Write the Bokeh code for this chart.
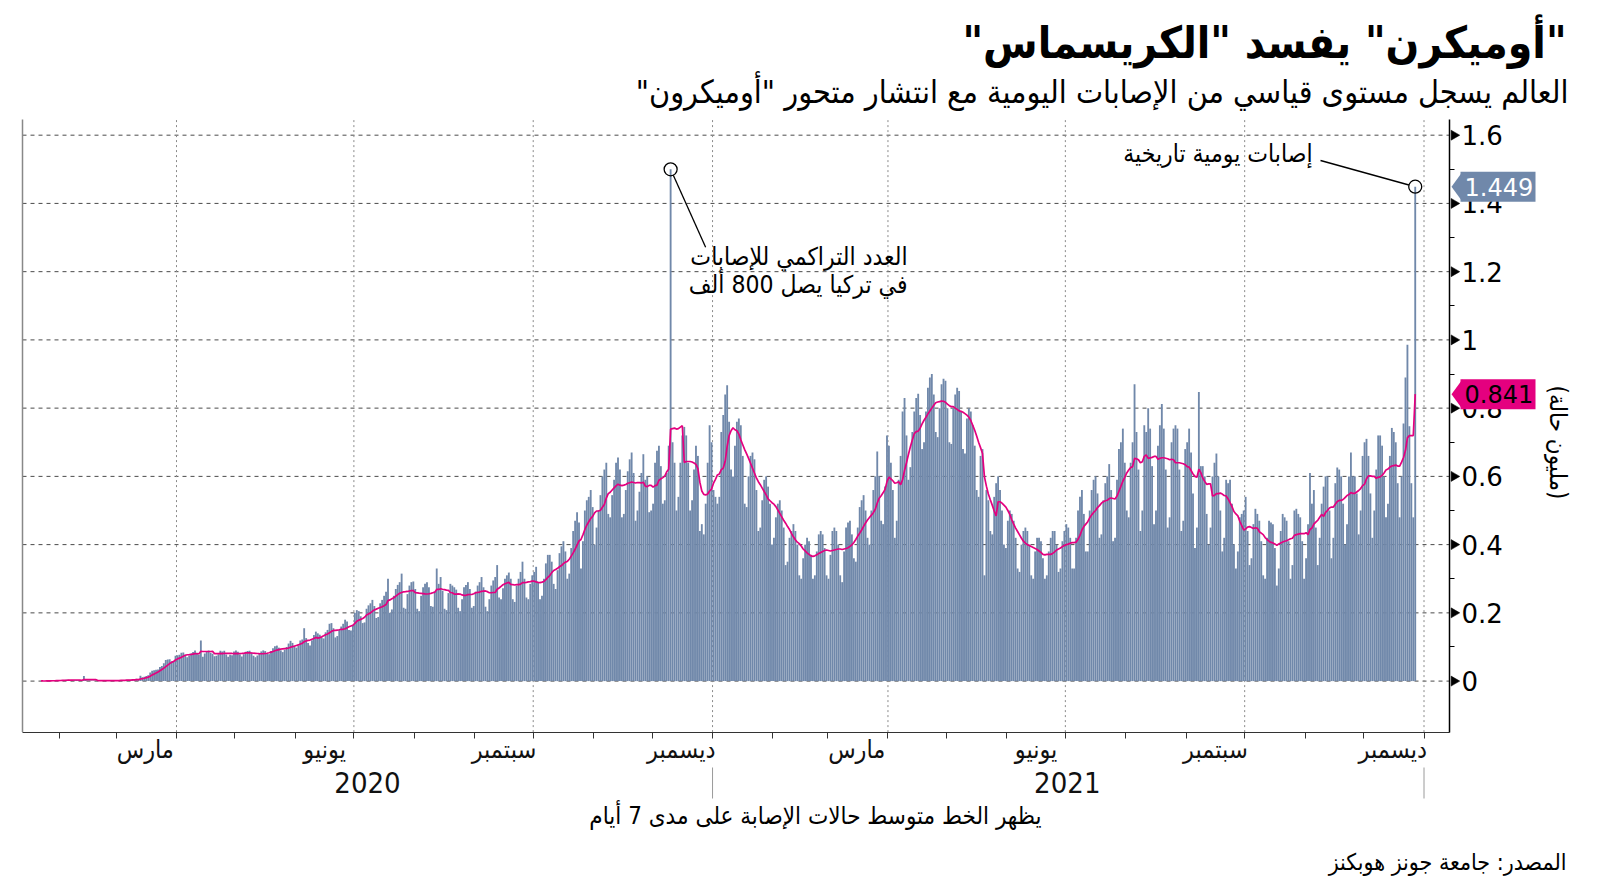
import numpy as np
import pandas as pd
from bokeh.plotting import figure
from bokeh.models import (Range1d, FixedTicker, NumeralTickFormatter, Label,
                          ColumnDataSource, DatetimeAxis)
from bokeh.embed import file_html
from bokeh.resources import INLINE

# ---------------- data (daily new cases worldwide, thousands) ----------------
jan20 = [1, 0, 0, 1, 1, 1, 3, 1, 2, 2]  # from Jan 22
feb20 = [2, 3, 3, 4, 4, 3, 3, 3, 3, 3, 2, 1, 15, 6, 2, 2, 2, 2, 1, 1, 1, 2, 1, 1, 1, 1, 1, 2, 2]
mar20 = [2, 2, 3, 2, 3, 4, 4, 4, 4, 5, 7, 3, 16, 11, 13, 15, 17, 25, 30, 32, 33, 34, 41, 44, 52, 62, 63, 64, 58, 59, 74]
apr20 = [76, 77, 83, 84, 77, 70, 75, 81, 85, 90, 83, 78, 119, 71, 81, 85, 90, 83, 80, 73, 74, 79, 89, 87, 89, 78, 71, 77, 76, 87]
may20 = [90, 86, 79, 72, 79, 86, 88, 89, 84, 74, 70, 75, 82, 87, 90, 88, 80, 79, 88, 96, 102, 104, 98, 90, 85, 92, 100, 110, 118, 112, 100]
jun20 = [98, 104, 119, 122, 155, 126, 112, 104, 120, 135, 145, 140, 136, 128, 125, 143, 150, 168, 170, 155, 128, 132, 150, 160, 168, 180, 175, 150, 148, 165]
jul20 = [200, 208, 205, 190, 170, 172, 212, 222, 228, 238, 220, 185, 188, 228, 238, 250, 262, 300, 200, 210, 250, 270, 282, 290, 315, 215, 212, 255, 280, 290, 292]
aug20 = [270, 212, 205, 250, 275, 285, 290, 275, 220, 218, 262, 330, 285, 305, 265, 212, 208, 258, 285, 280, 275, 268, 215, 205, 240, 275, 282, 290, 270, 215, 220]
sep20 = [262, 280, 290, 305, 275, 218, 205, 240, 280, 295, 305, 340, 245, 240, 272, 300, 310, 318, 300, 240, 232, 280, 300, 320, 350, 300, 245, 240, 285, 310]
oct20 = [320, 335, 290, 240, 250, 300, 345, 370, 370, 350, 285, 270, 325, 375, 395, 410, 380, 300, 315, 390, 440, 470, 495, 465, 330, 410, 500, 530, 540, 560, 510]
nov20 = [400, 450, 500, 545, 600, 620, 640, 490, 480, 545, 590, 640, 655, 620, 480, 490, 560, 615, 650, 670, 610, 470, 500, 555, 610, 665, 590, 600, 495, 500]
dec20 = [520, 640, 675, 690, 630, 520, 530, 610, 690, 1500, 700, 640, 500, 540, 640, 720, 745, 720, 640, 500, 530, 620, 690, 660, 440, 460, 430, 520, 640, 750, 700]
jan21 = [560, 540, 520, 540, 730, 780, 840, 867, 760, 620, 600, 690, 760, 770, 750, 660, 520, 510, 600, 660, 670, 650, 560, 440, 450, 530, 590, 600, 570, 520, 400]
feb21 = [420, 480, 520, 530, 500, 450, 340, 350, 420, 440, 460, 440, 400, 310, 300, 360, 400, 420, 410, 370, 300, 310, 380, 430, 440, 430, 390, 310]
mar21 = [300, 370, 440, 450, 440, 400, 310, 290, 380, 450, 465, 470, 430, 360, 350, 450, 510, 530, 545, 500, 420, 400, 500, 560, 600, 673, 600, 470, 460, 570, 720]
apr21 = [690, 640, 560, 420, 470, 590, 660, 790, 830, 720, 590, 627, 730, 790, 830, 842, 780, 680, 700, 790, 860, 890, 900, 840, 730, 715, 800, 870, 886, 880]
may21 = [800, 700, 695, 800, 840, 860, 850, 790, 680, 667, 770, 800, 790, 750, 690, 560, 540, 660, 680, 310, 560, 530, 440, 430, 540, 580, 600, 560, 500, 400, 390]
jun21 = [470, 500, 490, 470, 420, 330, 320, 400, 440, 450, 440, 400, 310, 300, 380, 420, 420, 410, 360, 300, 310, 380, 420, 440, 440, 400, 320, 330, 410, 440]
jul21 = [460, 450, 420, 330, 330, 420, 500, 540, 560, 490, 380, 380, 500, 560, 590, 600, 550, 420, 430, 530, 580, 600, 636, 560, 410, 420, 590, 680, 700, 740, 640]
aug21 = [500, 480, 640, 700, 870, 730, 620, 440, 500, 750, 730, 800, 740, 630, 460, 500, 690, 750, 812, 740, 620, 450, 480, 700, 740, 750, 740, 620, 440, 470, 680]
sep21 = [700, 740, 670, 550, 390, 450, 847, 630, 630, 600, 490, 400, 450, 600, 640, 667, 600, 500, 380, 420, 590, 580, 590, 520, 400, 330, 380, 480, 490, 500]
oct21 = [540, 440, 340, 360, 460, 505, 490, 470, 410, 310, 300, 420, 470, 465, 460, 390, 280, 330, 440, 490, 480, 470, 410, 300, 340, 500, 505, 490, 480, 410, 300]
nov21 = [360, 460, 610, 520, 560, 450, 340, 420, 520, 570, 600, 600, 500, 360, 420, 580, 626, 620, 600, 520, 400, 460, 600, 670, 600, 600, 550, 430, 500, 660]
dec21 = [700, 710, 660, 550, 420, 500, 620, 720, 720, 690, 600, 480, 520, 660, 742, 730, 700, 580, 480, 600, 755, 890, 986, 747, 580, 480, 1449]

month_blocks = [("2020-01-22", jan20), ("2020-02-01", feb20), ("2020-03-01", mar20),
                ("2020-04-01", apr20), ("2020-05-01", may20), ("2020-06-01", jun20),
                ("2020-07-01", jul20), ("2020-08-01", aug20), ("2020-09-01", sep20),
                ("2020-10-01", oct20), ("2020-11-01", nov20), ("2020-12-01", dec20),
                ("2021-01-01", jan21), ("2021-02-01", feb21), ("2021-03-01", mar21),
                ("2021-04-01", apr21), ("2021-05-01", may21), ("2021-06-01", jun21),
                ("2021-07-01", jul21), ("2021-08-01", aug21), ("2021-09-01", sep21),
                ("2021-10-01", oct21), ("2021-11-01", nov21), ("2021-12-01", dec21)]

quarter_labels = ["مارس", "يونيو", "سبتمبر", "ديسمبر"]
year_labels = ["2020", "2021"]
y_ticks = [0, 0.2, 0.4, 0.6, 0.8, 1.0, 1.2, 1.4, 1.6]
y_minor = [0.1, 0.3, 0.5, 0.7, 0.9, 1.1, 1.3, 1.5]

RLM = "\u200f"
title = RLM + "\"أوميكرن\" يفسد \"الكريسماس\"" + RLM
subtitle = RLM + "العالم يسجل مستوى قياسي من الإصابات اليومية مع انتشار متحور \"أوميكرون\"" + RLM
note = "يظهر الخط متوسط حالات الإصابة على مدى 7 أيام"
source_txt = "المصدر: جامعة جونز هوبكنز"
ann_turkey = ["العدد التراكمي للإصابات", "في تركيا يصل 800 ألف"]
ann_record = "إصابات يومية تاريخية"
y_title = "(مليون حالة)"

# ---------------- build series ----------------
dates, vals = [], []
for start, lst in month_blocks:
    d0 = pd.Timestamp(start)
    for i, v in enumerate(lst):
        dates.append(d0 + pd.Timedelta(days=i))
        vals.append(v / 1000.0)
s = pd.Series(vals, index=pd.DatetimeIndex(dates))
avg = s.rolling(7, min_periods=1).mean()
xc = s.index + pd.Timedelta(hours=12)
src = ColumnDataSource(dict(x=xc, v=s.values, a=avg.values))

DAY = 86400000.0
def ms(ts):
    return pd.Timestamp(ts).value / 1e6

# ---------------- geometry (page pixels -> data) ----------------
W, H = 1600, 888
PXD = 1247.5 / 640.0          # pixels per day
PPU = 341.2                   # pixels per million
X_REF, PX_REF = ms("2020-04-01"), 176.0
def X(px):
    return X_REF + (px - PX_REF) / PXD * DAY
def Y(py):
    return (680.6 - py) / PPU
def DX(dpx):
    return dpx / PXD * DAY
def DY(dpy):
    return -dpy / PPU

LEFT, RIGHT, TOP, BOTTOM = 22, 1449, 119, 731.6

p = figure(width=W, height=H, x_axis_type="datetime", y_axis_location="right",
           x_range=Range1d(X(0), X(W)), y_range=Range1d(Y(H), Y(0)),
           output_backend="svg", toolbar_location=None, title=None,
           min_border=0, min_border_left=0, min_border_right=0,
           min_border_top=0, min_border_bottom=0)
p.outline_line_color = None
p.background_fill_color = "white"
p.border_fill_color = "white"
p.xgrid.visible = False
p.ygrid.visible = False

AR = "DejaVu Sans Condensed"
NUM = "DejaVu Sans"
BAR = "#7088aa"
PINK = "#e4007f"

# ---------------- grid lines (limited to the chart box) ----------------
month_starts = [ms(d) for d in pd.date_range("2020-02-01", "2022-01-01", freq="MS")]
quarter_starts = [ms(d) for d in pd.date_range("2020-04-01", "2022-01-01", freq="QS")]
p.segment(x0=[X(LEFT)] * len(y_ticks), x1=[X(RIGHT)] * len(y_ticks), y0=y_ticks, y1=y_ticks,
          line_color="#4a4a4a", line_dash="4 4", line_width=1, level="underlay")
p.segment(x0=quarter_starts, x1=quarter_starts, y0=[Y(BOTTOM)] * len(quarter_starts),
          y1=[Y(TOP)] * len(quarter_starts), line_color="#8a8a8a", line_dash="2 3",
          line_width=1, level="underlay")
p.segment(x0=[X(LEFT)], x1=[X(LEFT)], y0=[Y(BOTTOM)], y1=[Y(TOP)],
          line_color="#888888", line_width=1.5)

# ---------------- x axis (months) ----------------
label_ticks, overrides = [], {}
for yr in (2020, 2021):
    for mo, lab in zip((3, 6, 9, 12), quarter_labels):
        t = int(ms(pd.Timestamp(year=yr, month=mo, day=16)))
        label_ticks.append(t)
        overrides[t] = lab

xa = p.xaxis[0]
xa.fixed_location = Y(BOTTOM)
xa.bounds = (X(LEFT), X(RIGHT))
xa.ticker = FixedTicker(ticks=label_ticks, minor_ticks=month_starts)
xa.major_label_overrides = overrides
xa.major_tick_out = 0
xa.major_tick_in = 0
xa.minor_tick_out = 6
xa.minor_tick_in = 0
xa.minor_tick_line_color = "#333333"
xa.axis_line_color = "#333333"
xa.axis_line_width = 1.2
xa.major_label_standoff = -3
xa.major_label_text_font = AR
xa.major_label_text_font_size = "25px"
xa.major_label_text_color = "#111111"

# second x axis: years
year_ticks = [int(ms("2020-07-08")), int(ms("2021-07-02"))]
ya2 = DatetimeAxis(fixed_location=Y(BOTTOM), bounds=(X(LEFT), X(RIGHT)),
                   ticker=FixedTicker(ticks=year_ticks),
                   major_label_overrides={t: l for t, l in zip(year_ticks, year_labels)},
                   axis_line_color=None, major_tick_line_color=None, minor_tick_line_color=None,
                   major_tick_out=0, major_tick_in=0, minor_tick_out=0, minor_tick_in=0,
                   major_label_standoff=40, major_label_text_font=AR,
                   major_label_text_font_size="29px", major_label_text_color="#111111")
p.add_layout(ya2, "below")

# year separators
seps = [ms("2021-01-01"), ms("2022-01-01")]
p.segment(x0=seps, x1=seps, y0=[Y(767)] * 2, y1=[Y(798)] * 2, line_color="#9a9a9a", line_width=1)

# ---------------- y axis ----------------
yax = p.yaxis[0]
yax.fixed_location = X(RIGHT)
yax.bounds = (Y(BOTTOM), Y(TOP))
yax.ticker = FixedTicker(ticks=y_ticks, minor_ticks=y_minor)
yax.formatter = NumeralTickFormatter(format="0.[0]")
yax.axis_line_color = "black"
yax.axis_line_width = 1.5
yax.major_tick_out = 8
yax.major_tick_in = 0
yax.major_tick_line_color = None
yax.minor_tick_out = 5
yax.minor_tick_in = 0
yax.major_label_standoff = 4
yax.major_label_text_font = NUM
yax.major_label_text_font_size = "26px"
yax.major_label_text_color = "black"
# arrow-shaped major tick marks
p.scatter(x=[X(RIGHT + 4.5)] * len(y_ticks), y=y_ticks, marker="triangle", angle=-np.pi / 2,
          size=10, fill_color="black", line_color="black", line_width=0.5)

# ---------------- bars and 7-day average ----------------
p.vbar(x="x", top="v", bottom=0, width=0.95 * DAY, source=src,
       fill_color=BAR, line_color=None)
p.line(x="x", y="a", source=src, line_color=PINK, line_width=1.7)

# ---------------- annotations ----------------
s20 = s[s.index.year == 2020]
t_date = ms(s20.idxmax() + pd.Timedelta(hours=12))
t_val = s20.max()
r_date = ms(xc[-1])
r_val = s.iloc[-1]
a_val = avg.iloc[-1]
p.scatter(x=[t_date, r_date], y=[t_val, r_val], marker="circle", size=13,
          fill_color=None, line_color="black", line_width=1.3)
p.segment(x0=[t_date + DX(2.7), r_date + DX(-6.3)], y0=[t_val + DY(5.9), r_val + DY(-1.7)],
          x1=[t_date + DX(35), r_date + DX(-94.7)], y1=[t_val + DY(78), r_val + DY(-26.2)],
          line_color="black", line_width=1.3)

def lab(text, px, py, size, align="right", color="black", style="normal", font=AR, angle=0.0):
    p.add_layout(Label(x=X(px), y=Y(py), text=text, text_font=font, text_font_size=f"{size}px",
                       text_align=align, text_baseline="middle", text_color=color,
                       text_font_style=style, angle=angle))

lab(ann_turkey[0], 907, 256, 24.5)
lab(ann_turkey[1], 907, 284, 24.5)
lab(ann_record, 1312, 153, 24.5)

lab(title, 1566, 42, 44, style="bold")
lab(subtitle, 1568, 91, 32)
lab(note, 1041, 815, 24)
lab(source_txt, 1566, 861, 23)
lab(y_title, 1557, 442, 24, align="center", angle=-np.pi / 2)

# value callouts on the axis
def callout(val, fill, tcolor):
    p.patch(x=[X(1451), X(1462), X(1462)], y=[val, val + DY(-15), val + DY(15)],
            fill_color=fill, line_color=None, level="annotation")
    p.quad(left=[X(1460)], right=[X(1535)], top=[val + DY(-15)], bottom=[val + DY(15)],
           fill_color=fill, line_color=None, level="annotation")
    p.add_layout(Label(x=X(1464), y=val, text=f"{val:.3f}", text_font=NUM,
                       text_font_size="24px", text_align="left", text_baseline="middle",
                       text_color=tcolor, level="overlay"))

callout(r_val, BAR, "white")
callout(a_val, PINK, "black")

open("out.html", "w").write(file_html(p, INLINE))
